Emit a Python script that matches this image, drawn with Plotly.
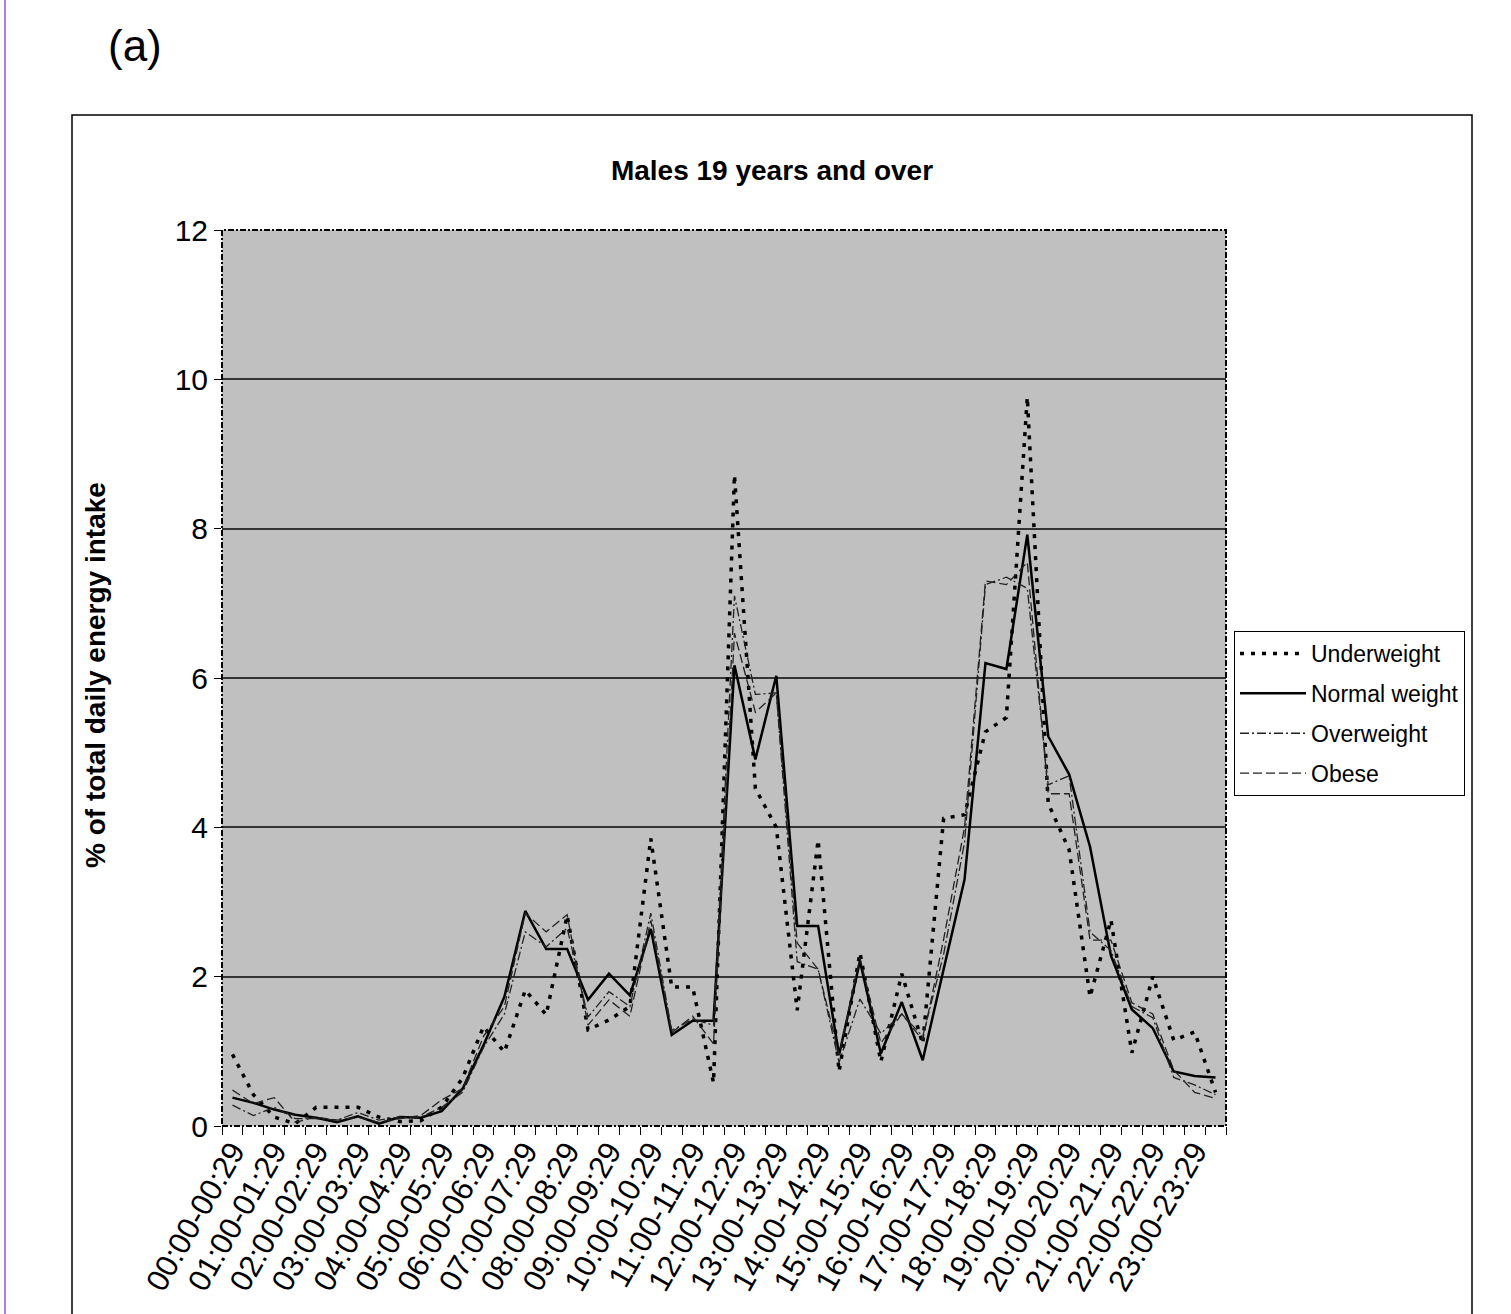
import plotly.graph_objects as go

time_slots = [
    "00:00-00:29", "00:30-00:59", "01:00-01:29", "01:30-01:59",
    "02:00-02:29", "02:30-02:59", "03:00-03:29", "03:30-03:59",
    "04:00-04:29", "04:30-04:59", "05:00-05:29", "05:30-05:59",
    "06:00-06:29", "06:30-06:59", "07:00-07:29", "07:30-07:59",
    "08:00-08:29", "08:30-08:59", "09:00-09:29", "09:30-09:59",
    "10:00-10:29", "10:30-10:59", "11:00-11:29", "11:30-11:59",
    "12:00-12:29", "12:30-12:59", "13:00-13:29", "13:30-13:59",
    "14:00-14:29", "14:30-14:59", "15:00-15:29", "15:30-15:59",
    "16:00-16:29", "16:30-16:59", "17:00-17:29", "17:30-17:59",
    "18:00-18:29", "18:30-18:59", "19:00-19:29", "19:30-19:59",
    "20:00-20:29", "20:30-20:59", "21:00-21:29", "21:30-21:59",
    "22:00-22:29", "22:30-22:59", "23:00-23:29", "23:30-23:59",
]
tick_labels = [s if s[3:5] == "00" else "" for s in time_slots]

underweight = [0.96, 0.42, 0.12, 0.03, 0.25, 0.25, 0.25, 0.12, 0.06, 0.07, 0.25, 0.64,
               1.33, 0.99, 1.82, 1.49, 2.82, 1.29, 1.42, 1.6, 3.85, 1.86, 1.86, 0.58,
               8.72, 4.52, 4.0, 1.55, 3.83, 0.73, 2.32, 0.86, 2.04, 1.1, 4.12, 4.17,
               5.28, 5.47, 9.76, 4.32, 3.7, 1.73, 2.76, 0.98, 2.0, 1.15, 1.26, 0.45]
normal_weight = [0.38, 0.31, 0.22, 0.15, 0.11, 0.05, 0.13, 0.03, 0.12, 0.11, 0.2, 0.5,
                 1.08, 1.73, 2.88, 2.37, 2.37, 1.69, 2.04, 1.75, 2.64, 1.22, 1.41, 1.41,
                 6.17, 4.91, 6.03, 2.68, 2.68, 0.95, 2.21, 0.97, 1.66, 0.88, 2.1, 3.3,
                 6.2, 6.12, 7.92, 5.22, 4.71, 3.74, 2.28, 1.56, 1.31, 0.73, 0.67, 0.65]
overweight = [0.28, 0.14, 0.25, 0.1, 0.1, 0.08, 0.18, 0.08, 0.12, 0.12, 0.25, 0.45,
              1.05, 1.5, 2.6, 2.4, 2.65, 1.46, 1.8, 1.6, 2.85, 1.28, 1.43, 1.35,
              7.1, 5.78, 5.8, 2.2, 2.1, 0.85, 1.7, 1.24, 1.5, 1.2, 2.3, 3.8,
              7.25, 7.35, 7.2, 4.57, 4.69, 2.6, 2.35, 1.6, 1.45, 0.65, 0.55, 0.42]
obese = [0.48, 0.3, 0.38, 0.05, 0.12, 0.08, 0.12, 0.05, 0.1, 0.14, 0.35, 0.5,
         1.2, 1.6, 2.85, 2.6, 2.83, 1.35, 1.69, 1.47, 2.75, 1.25, 1.47, 1.1,
         6.6, 5.54, 5.8, 2.45, 2.1, 0.95, 2.25, 1.11, 1.5, 1.15, 2.5, 4.0,
         7.3, 7.25, 7.55, 4.45, 4.45, 2.49, 2.49, 1.65, 1.5, 0.75, 0.45, 0.37]

series = [
    ("Underweight", underweight, dict(color="black", width=3.5, dash="4px,7px")),
    ("Normal weight", normal_weight, dict(color="black", width=2.5, dash="solid")),
    ("Overweight", overweight, dict(color="#222222", width=1.3, dash="9px,3px,2px,3px")),
    ("Obese", obese, dict(color="#222222", width=1.3, dash="9px,4px")),
]

FONT = "Liberation Sans, Arial, sans-serif"

fig = go.Figure()
for name, vals, line in series:
    fig.add_trace(go.Scatter(x=time_slots, y=vals, mode="lines", name=name,
                             legendgroup=name, line=line))

W, H = 1511, 1314
L, R, T, B = 222, 1226, 230, 1126


def px(xp):
    return (xp - L) / (R - L)


def py(yp):
    return (B - yp) / (B - T)


fig.update_layout(
    width=W, height=H,
    margin=dict(l=L, r=W - R, t=T, b=H - B, autoexpand=False),
    paper_bgcolor="white",
    plot_bgcolor="#c0c0c0",
    font=dict(family=FONT, color="black", size=22),
    showlegend=True,
    legend=dict(
        x=px(1234), y=py(631), xanchor="left", yanchor="top",
        bgcolor="white", bordercolor="black", borderwidth=1,
        font=dict(family=FONT, size=23, color="black"),
        tracegroupgap=7, itemwidth=66,
    ),
    xaxis=dict(
        type="category",
        tickmode="array", tickvals=time_slots, ticktext=tick_labels,
        tickson="boundaries", ticks="outside", ticklen=8, tickcolor="black", tickwidth=1,
        tickangle=-60, tickfont=dict(family=FONT, size=31),
        showgrid=False, showline=False, zeroline=False,
        range=[-0.5, 47.5],
    ),
    yaxis=dict(
        range=[0, 12], dtick=2, tick0=0,
        ticks="outside", ticklen=7, tickcolor="black",
        tickfont=dict(family=FONT, size=30),
        showgrid=True, gridcolor="#333333", gridwidth=1.5,
        zeroline=False, showline=False,
    ),
    title=dict(
        text="<b>Males 19 years and over</b>",
        xref="paper", x=px(772), xanchor="center",
        yref="container", y=1 - 170 / H, yanchor="middle",
        font=dict(family=FONT, size=28, color="black"),
    ),
)

# plot-area border (dash-dot, Excel style)
fig.add_shape(type="rect", xref="paper", yref="paper", x0=0, x1=1, y0=0, y1=1,
              line=dict(color="black", width=2, dash="6px,2px,2px,2px"), layer="above")
# outer chart frame
fig.add_shape(type="rect", xref="paper", yref="paper",
              x0=px(72), x1=px(1472), y0=py(1340), y1=py(115),
              line=dict(color="black", width=1.5))
# purple page edge line
fig.add_shape(type="line", xref="paper", yref="paper",
              x0=px(5), x1=px(5), y0=py(1314), y1=py(0),
              line=dict(color="#b57edc", width=2))

fig.add_annotation(text="<b>% of total daily energy intake</b>", textangle=-90,
                   xref="paper", yref="paper", x=px(95), y=py(675),
                   xanchor="center", yanchor="middle", showarrow=False,
                   font=dict(family=FONT, size=28, color="black"))
fig.add_annotation(text="(a)", xref="paper", yref="paper", x=px(106), y=py(45),
                   xanchor="left", yanchor="middle", showarrow=False,
                   font=dict(family=FONT, size=44, color="black"))

fig.write_html("out.html")
